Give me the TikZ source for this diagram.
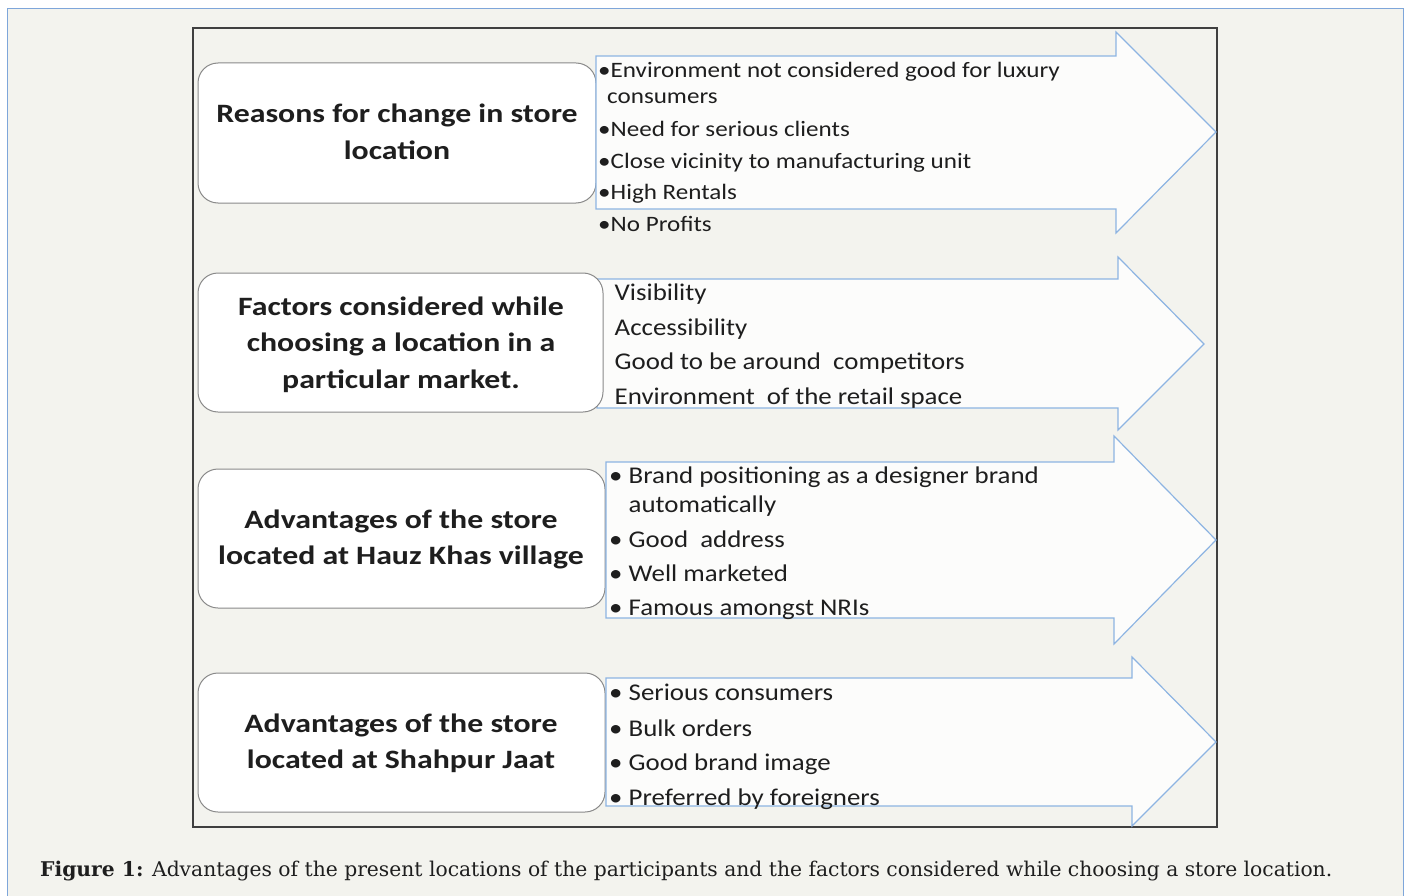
\documentclass[tikz,border=0pt]{standalone}
\usepackage{fontspec}
\usepackage{graphicx}
\newfontfamily\carlitobox[FakeStretch=1.2]{Carlito}
\newfontfamily\carlitoA[FakeStretch=1.14]{Carlito}
\newfontfamily\carlitoB[FakeStretch=1.12]{Carlito}
\newfontfamily\capfont{DejaVu Serif}
\definecolor{pagebg}{HTML}{F3F3EE}
\definecolor{outerblue}{HTML}{7EA6DA}
\definecolor{arrowblue}{HTML}{8DB4E2}
\definecolor{arrowfill}{HTML}{FCFCFB}
\definecolor{boxgrey}{HTML}{8A8A8A}
\definecolor{framegrey}{HTML}{3F3F3F}
\definecolor{txt}{HTML}{1E1E1E}
\tikzset{
  labelbox/.style={draw=boxgrey, fill=white, line width=1pt, rounded corners=20pt},
  bigarrow/.style={draw=arrowblue, fill=arrowfill, line width=1.2pt, line join=miter},
  boxtext/.style={align=center, text=txt, font=\carlitobox\bfseries\fontsize{26.5}{36.5}\selectfont, inner sep=0pt},
  itemA/.style={anchor=base west, inner sep=0pt, text=txt, font=\carlitoA\fontsize{22}{22}\selectfont},
  item/.style={anchor=base west, inner sep=0pt, text=txt, font=\carlitoB\fontsize{24}{24}\selectfont}
}
\begin{document}
\begin{tikzpicture}[x=1pt,y=-1pt]
\useasboundingbox (0,0) rectangle (1407,896);
\fill[white] (0,0) rectangle (1407,896);
% outer panel
\fill[pagebg] (7,8.5) rectangle (1403,896);
\draw[outerblue, line width=1pt] (7,896) -- (7,8.5) -- (1403,8.5) -- (1403,896);
% inner frame
\draw[framegrey, line width=1.3pt] (193,28) rectangle (1217,827);

% row 1
\draw[labelbox] (198,63) rectangle (596,203);
\draw[bigarrow] (596,56) -- (1116,56) -- (1116,32) -- (1216,132) -- (1116,233) -- (1116,209) -- (596,209) -- cycle;
\node[boxtext] (b1) at (397,132) {Reasons for change in store\\location};
\node[itemA] (a1i1) at (598,77.3) {•Environment not considered good for luxury};
\node[itemA] (a1i1b) at (607,103.5) {consumers};
\node[itemA] (a1i2) at (598,136.5) {•Need for serious clients};
\node[itemA] (a1i3) at (598,168) {•Close vicinity to manufacturing unit};
\node[itemA] (a1i4) at (598,200) {•High Rentals};
\node[itemA] (a1i5) at (598,231) {•No Profits};

% row 2
\draw[bigarrow] (597,279) -- (1118,279) -- (1118,257) -- (1204,344) -- (1118,430) -- (1118,408) -- (597,408) -- cycle;
\draw[labelbox] (198,273) rectangle (603,412);
\node[boxtext] (b2) at (401,344.5) {Factors considered while\\choosing a location in a\\particular market.};
\node[item] (a2i1) at (614.5,300.7) {Visibility};
\node[item] (a2i2) at (614.5,335) {Accessibility};
\node[item] (a2i3) at (614.5,369.3) {Good to be around\ \ competitors};
\node[item] (a2i4) at (614.5,404) {Environment\ \ of the retail space};

% row 3
\draw[labelbox] (198,469) rectangle (605,608);
\draw[bigarrow] (606,462) -- (1114,462) -- (1114,436) -- (1216,540) -- (1114,644) -- (1114,618) -- (606,618) -- cycle;
\node[boxtext] (b3) at (401,539.5) {Advantages of the store\\located at Hauz Khas village};
\node[item] (a3b1) at (609,483.3) {•};
\node[item] (a3i1) at (628.5,483.3) {Brand positioning as a designer brand};
\node[item] (a3i1b) at (628.5,512.7) {automatically};
\node[item] (a3b2) at (609,547.3) {•};
\node[item] (a3i2) at (628.5,547.3) {Good\ \ address};
\node[item] (a3b3) at (609,581.7) {•};
\node[item] (a3i3) at (628.5,581.7) {Well marketed};
\node[item] (a3b4) at (609,615) {•};
\node[item] (a3i4) at (628.5,615) {Famous amongst NRIs};

% row 4
\draw[labelbox] (198,673) rectangle (605,812);
\draw[bigarrow] (606,678) -- (1132,678) -- (1132,657) -- (1216,742) -- (1132,826) -- (1132,806) -- (606,806) -- cycle;
\node[boxtext] (b4) at (401,743.5) {Advantages of the store\\located at Shahpur Jaat};
\node[item] (a4b1) at (609,700) {•};
\node[item] (a4i1) at (628.5,700) {Serious consumers};
\node[item] (a4b2) at (609,736) {•};
\node[item] (a4i2) at (628.5,736) {Bulk orders};
\node[item] (a4b3) at (609,770.7) {•};
\node[item] (a4i3) at (628.5,770.7) {Good brand image};
\node[item] (a4b4) at (609,805) {•};
\node[item] (a4i4) at (628.5,805) {Preferred by foreigners};

% caption
\node[anchor=base west, inner sep=0pt, text=txt] (cap) at (40,876.7) {\resizebox{1292pt}{!}{\capfont\fontsize{17}{17}\selectfont\textbf{Figure 1:} Advantages of the present locations of the participants and the factors considered while choosing a store location.}};
\end{tikzpicture}
\end{document}
